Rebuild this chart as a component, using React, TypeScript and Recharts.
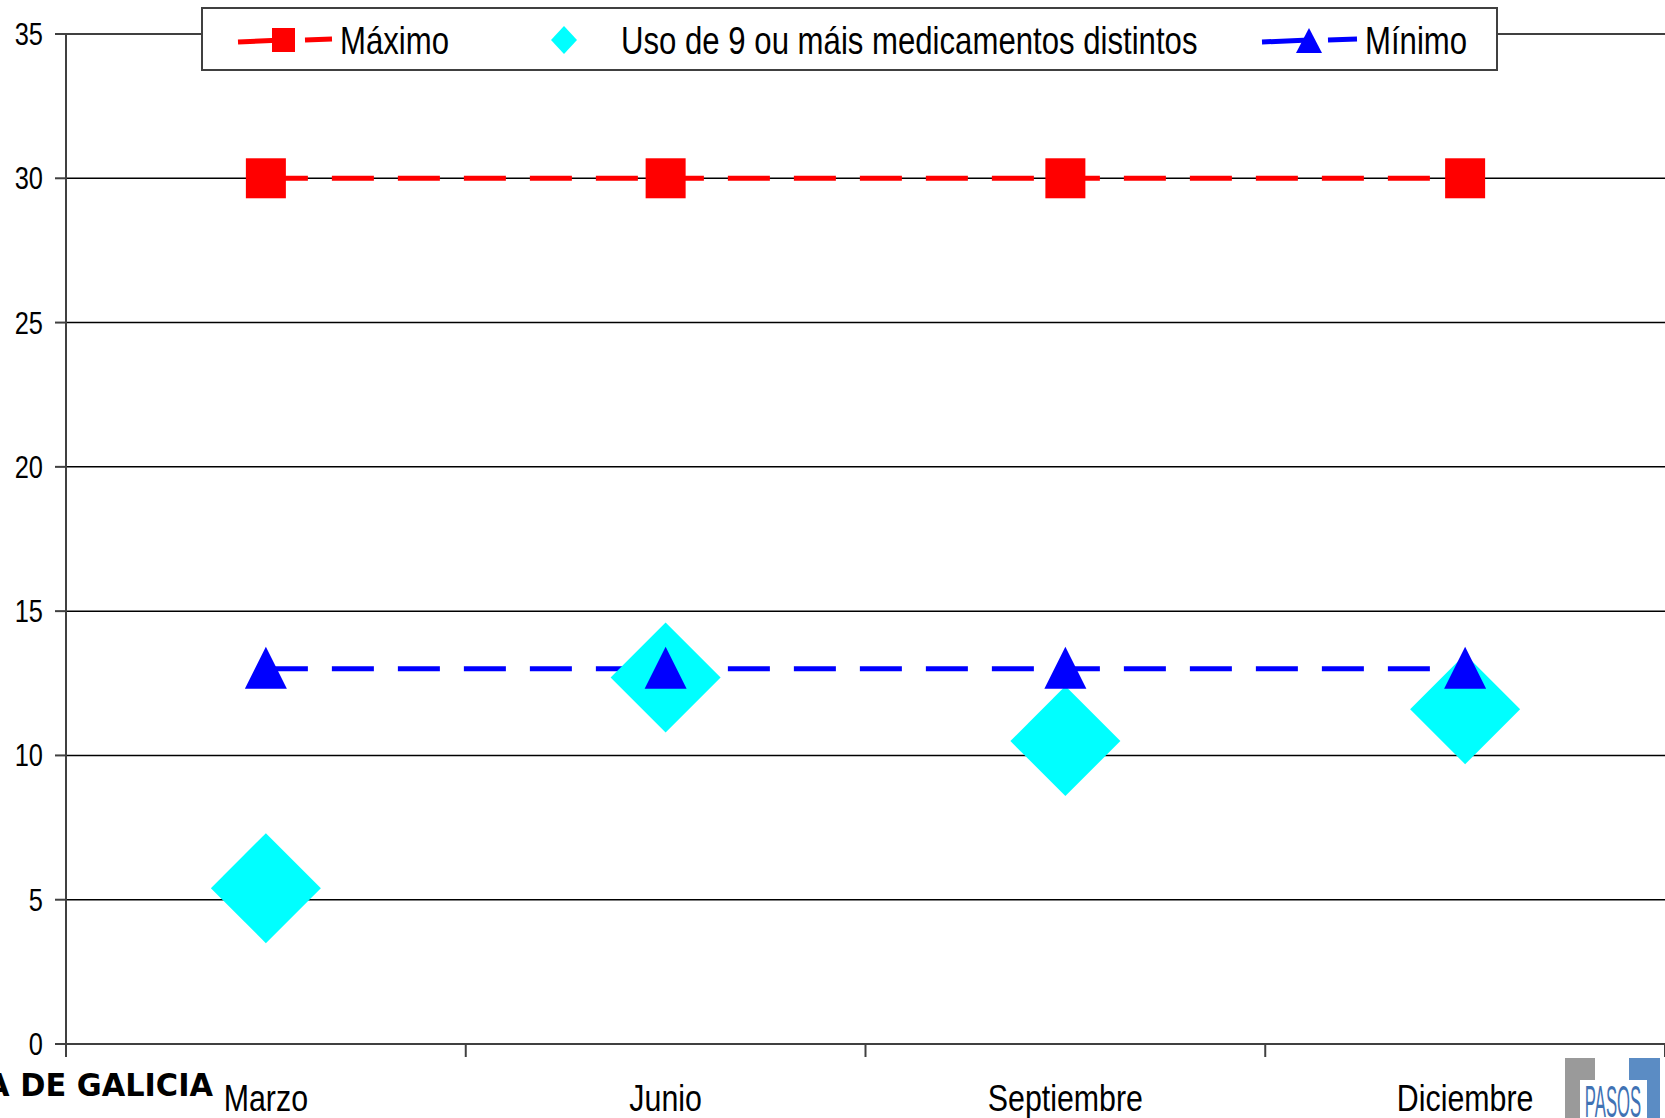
import React from 'react';
import { LineChart, Line, XAxis, YAxis, CartesianGrid } from 'recharts';

const categories = ['Marzo', 'Junio', 'Septiembre', 'Diciembre'];
const maximo = [30, 30, 30, 30];
const uso = [5.4, 12.7, 10.5, 11.6];
const minimo = [13, 13, 13, 13];
const yTicks = [0, 5, 10, 15, 20, 25, 30, 35];
const xTicks = [0, 0.5, 1, 1.5, 2, 2.5, 3, 3.5, 4];

const data = categories.map((c, i) => ({
  x: i + 0.5,
  name: c,
  max: maximo[i],
  uso: uso[i],
  min: minimo[i],
}));

const FONT = "'Liberation Sans', Arial, sans-serif";
const NARROW = 0.82;

const NText = ({ x, y, size, anchor = 'start', children, fill = '#000', sx = NARROW, family = FONT, weight = 400 }: any) => (
  <text
    transform={`translate(${x},${y}) scale(${sx},1)`}
    x={0}
    y={0}
    textAnchor={anchor}
    fontFamily={family}
    fontWeight={weight}
    fontSize={size}
    fill={fill}
  >
    {children}
  </text>
);

const XTick = (props: any) => {
  const { x, y, payload } = props;
  const v = payload.value;
  if (Number.isInteger(v)) {
    return <line x1={x} x2={x} y1={y} y2={y + 13} stroke="#404040" strokeWidth={2} />;
  }
  const idx = Math.floor(v);
  return (
    <NText x={x} y={y + 67} size={37} anchor="middle">
      {categories[idx]}
    </NText>
  );
};

const YTick = (props: any) => {
  const { x, y, payload } = props;
  return (
    <NText x={x} y={y + 11} size={31} anchor="end">
      {payload.value}
    </NText>
  );
};

const SquareDot = (p: any) => {
  const { cx, cy, index } = p;
  if (cx == null || cy == null) return <g key={`s${index}`} />;
  return <rect key={`s${index}`} x={cx - 20} y={cy - 20} width={40} height={40} fill="#FF0000" />;
};

const TriangleDot = (p: any) => {
  const { cx, cy, index } = p;
  if (cx == null || cy == null) return <g key={`t${index}`} />;
  return (
    <polygon
      key={`t${index}`}
      points={`${cx},${cy - 22} ${cx + 21},${cy + 20} ${cx - 21},${cy + 20}`}
      fill="#0000FF"
    />
  );
};

const DiamondDot = (p: any) => {
  const { cx, cy, index } = p;
  if (cx == null || cy == null) return <g key={`d${index}`} />;
  return (
    <polygon
      key={`d${index}`}
      points={`${cx},${cy - 55} ${cx + 55},${cy} ${cx},${cy + 55} ${cx - 55},${cy}`}
      fill="#00FFFF"
    />
  );
};

const LegendBox = () => (
  <svg
    width={1665}
    height={80}
    style={{ position: 'absolute', left: 0, top: 0, pointerEvents: 'none' }}
  >
    <rect x={202} y={8} width={1295} height={62} fill="#fff" stroke="#404040" strokeWidth={2} />
    {/* Máximo */}
    <line x1={238} x2={283} y1={42} y2={40} stroke="#FF0000" strokeWidth={5} />
    <line x1={305} x2={332} y1={40} y2={39} stroke="#FF0000" strokeWidth={5} />
    <rect x={272} y={28} width={23} height={24} fill="#FF0000" />
    <NText x={340} y={54} size={38}>Máximo</NText>
    {/* Uso */}
    <polygon points="564,26 577,40 564,54 551,40" fill="#00FFFF" />
    <NText x={621} y={54} size={38}>Uso de 9 ou máis medicamentos distintos</NText>
    {/* Mínimo */}
    <line x1={1262} x2={1309} y1={42} y2={40} stroke="#0000FF" strokeWidth={5} />
    <line x1={1328} x2={1357} y1={40} y2={39} stroke="#0000FF" strokeWidth={5} />
    <polygon points="1309,28 1322,53 1296,53" fill="#0000FF" />
    <NText x={1365} y={54} size={38}>Mínimo</NText>
  </svg>
);

const Logos = () => (
  <svg
    width={1665}
    height={1118}
    style={{ position: 'absolute', left: 0, top: 0, pointerEvents: 'none' }}
  >
    <NText x={213} y={1096} size={32} anchor="end" sx={0.95} weight={900} family="'DejaVu Sans', sans-serif">
      XUNTA DE GALICIA
    </NText>
    <rect x={1565} y={1058} width={30} height={60} fill="#9a9a9a" />
    <rect x={1629} y={1058} width={31} height={60} fill="#5b8cc4" />
    <rect x={1580} y={1080} width={67} height={38} fill="#fff" />
    <NText x={1613} y={1117} size={44} anchor="middle" sx={0.38} fill="#3f72b4">
      PASOS
    </NText>
  </svg>
);

export default function App() {
  return (
    <div style={{ position: 'absolute', left: 0, top: 0, width: 1665, height: 1118, background: '#fff', overflow: 'hidden' }}>
      <LineChart
        width={1665}
        height={1118}
        data={data}
        margin={{ top: 34, right: 0, bottom: 0, left: 0 }}
      >
        <CartesianGrid vertical={false} stroke="#000" strokeWidth={1.5} />
        <XAxis
          dataKey="x"
          type="number"
          domain={[0, 4]}
          ticks={xTicks}
          interval={0}
          height={74}
          tickSize={0}
          tickMargin={0}
          tickLine={false}
          tick={XTick}
          axisLine={{ stroke: '#404040', strokeWidth: 2 }}
        />
        <YAxis
          type="number"
          domain={[0, 35]}
          ticks={yTicks}
          interval={0}
          width={66}
          tickSize={11}
          tickMargin={12}
          axisLine={{ stroke: '#404040', strokeWidth: 2 }}
          tickLine={{ stroke: '#404040', strokeWidth: 2 }}
          tick={YTick}
        />
        <Line
          dataKey="uso"
          stroke="none"
          dot={DiamondDot}
          activeDot={false}
          isAnimationActive={false}
        />
        <Line
          dataKey="min"
          stroke="#0000FF"
          strokeWidth={5}
          strokeDasharray="42 24"
          dot={TriangleDot}
          activeDot={false}
          isAnimationActive={false}
        />
        <Line
          dataKey="max"
          stroke="#FF0000"
          strokeWidth={5}
          strokeDasharray="42 24"
          dot={SquareDot}
          activeDot={false}
          isAnimationActive={false}
        />
      </LineChart>
      <LegendBox />
      <Logos />
    </div>
  );
}
